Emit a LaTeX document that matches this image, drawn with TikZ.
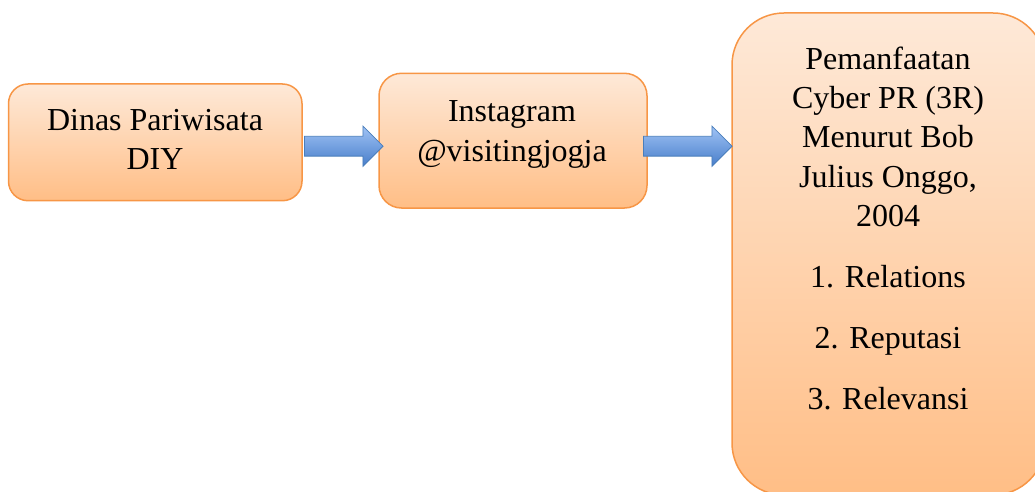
\documentclass[tikz,border=0pt]{standalone}
\usepackage{fontspec}
\setmainfont{Liberation Serif}
\usetikzlibrary{shapes.arrows}
\definecolor{boxtop}{RGB}{254,233,216}
\definecolor{boxbot}{RGB}{255,190,134}
\definecolor{boxline}{RGB}{247,150,70}
\definecolor{arrtop}{RGB}{160,195,245}
\definecolor{arrbot}{RGB}{72,126,202}
\definecolor{arrline}{RGB}{74,126,187}
\begin{document}
\begin{tikzpicture}[x=1pt,y=-1pt,
  box/.style={draw=boxline, line width=1.5pt, top color=boxtop, bottom color=boxbot, rectangle, inner sep=0pt},
  txt/.style={font=\fontsize{32}{39.4}\selectfont, align=center, anchor=base, inner sep=0pt},
  blockarrow/.style={single arrow, draw=arrline, line width=0.8pt, top color=arrtop, bottom color=arrbot, single arrow head extend=10.25pt, inner xsep=0pt, inner ysep=9.5pt, single arrow tip angle=90, anchor=tail}]
\useasboundingbox (0,0) rectangle (1035,492);
\clip (0,0) rectangle (1035,492);
\node[box, minimum width=293.5pt, minimum height=116.7pt, rounded corners=19.5pt] (b1) at (155.25,142.35) {};
\node[box, minimum width=268pt, minimum height=134.7pt, rounded corners=22.5pt] (b2) at (513,140.65) {};
\node[box, minimum width=313pt, minimum height=482pt, rounded corners=52pt] (b3) at (888.5,254) {};
\node[blockarrow, minimum height=78.7pt] (a1) at (304,146.2) {};
\node[blockarrow, minimum height=88.7pt] (a2) at (643,146.2) {};
\node[txt] (t1) at (155,169.4) {Dinas Pariwisata\\DIY};
\node[txt] (t2) at (512,161.1) {Instagram\\@visitingjogja};
\node[txt] (t3) at (888,226.6) {Pemanfaatan\\Cyber PR (3R)\\Menurut Bob\\Julius Onggo,\\2004};
\node[txt] (t4) at (888,287.3) {1. Relations};
\node[txt] (t5) at (888,348.3) {2. Reputasi};
\node[txt] (t6) at (888,409.3) {3. Relevansi};
\end{tikzpicture}
\end{document}
